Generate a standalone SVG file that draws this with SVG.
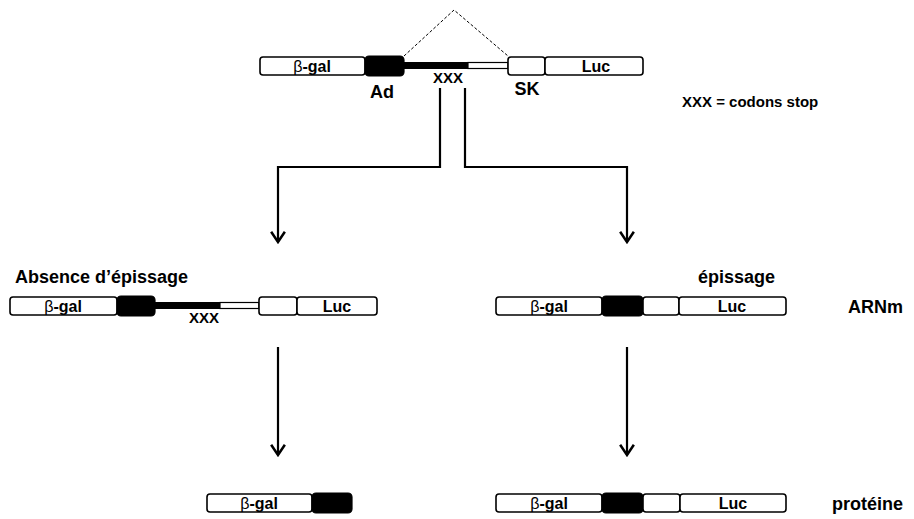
<svg xmlns="http://www.w3.org/2000/svg" width="914" height="519" viewBox="0 0 914 519">
<style>
.box{fill:#fff;stroke:#000;stroke-width:1.6}
.blk{fill:#000;stroke:#000;stroke-width:1.2}
.bar{fill:#000}
.wbar{fill:#fff;stroke:#000;stroke-width:1.2}
.t{font-family:"Liberation Sans",Arial,sans-serif;font-weight:bold;fill:#000}
.lab{font-size:18px}
.small{font-size:15px}
.g{font-size:16px;text-anchor:middle}
.beta{font-weight:normal}
.conn{fill:none;stroke:#000;stroke-width:2.2}
.dash{fill:none;stroke:#000;stroke-width:1;stroke-dasharray:3,2}
</style>
<defs>
<marker id="arr" markerUnits="userSpaceOnUse" markerWidth="14" markerHeight="16" refX="10" refY="7" orient="auto" viewBox="0 0 12 14">
<path d="M1,1 L10,7 L1,13" fill="none" stroke="#000" stroke-width="2.2"/>
</marker>
</defs>
<rect x="0" y="0" width="914" height="519" fill="#fff"/>

<g id="construct-top">
<path class="dash" d="M404,56 L454,10 L508,56"/>
<rect class="box" x="260" y="57" width="105" height="18" rx="3"/>
<text class="t g" x="312" y="72"><tspan class="beta">β</tspan>-gal</text>
<rect class="blk" x="365" y="56" width="39" height="20" rx="4"/>
<rect class="bar" x="403" y="62" width="65" height="7"/>
<rect class="wbar" x="468" y="62.5" width="40" height="6"/>
<rect class="box" x="508" y="57" width="37" height="18" rx="3"/>
<rect class="box" x="545" y="57" width="98" height="18" rx="3"/>
<text class="t g" x="596" y="72">Luc</text>
<text class="t small" x="448" y="83" text-anchor="middle">XXX</text>
<text class="t lab" x="382" y="98" text-anchor="middle">Ad</text>
<text class="t lab" x="527" y="95" text-anchor="middle">SK</text>
</g>

<g id="legend">
<text class="t small" x="682" y="107">XXX = codons stop</text>
</g>

<g id="unspliced">
<text class="t lab" x="15" y="283">Absence d’épissage</text>
<rect class="box" x="10" y="297" width="107" height="18" rx="3"/>
<text class="t g" x="63" y="312"><tspan class="beta">β</tspan>-gal</text>
<rect class="blk" x="117" y="296" width="38" height="20" rx="4"/>
<rect class="bar" x="154" y="302" width="66" height="7"/>
<rect class="wbar" x="220" y="302.5" width="39" height="6"/>
<rect class="box" x="259" y="297" width="38" height="18" rx="3"/>
<rect class="box" x="297" y="297" width="80" height="18" rx="3"/>
<text class="t g" x="337" y="312">Luc</text>
<text class="t small" x="204" y="323" text-anchor="middle">XXX</text>
</g>

<g id="spliced">
<text class="t lab" x="698" y="283">épissage</text>
<rect class="box" x="496" y="297" width="106" height="18" rx="3"/>
<text class="t g" x="549" y="312"><tspan class="beta">β</tspan>-gal</text>
<rect class="blk" x="602" y="296" width="41" height="20" rx="4"/>
<rect class="box" x="643" y="297" width="36" height="18" rx="3"/>
<rect class="box" x="679" y="297" width="107" height="18" rx="3"/>
<text class="t g" x="732" y="312">Luc</text>
<text class="t lab" x="848" y="313">ARNm</text>
</g>

<g id="protein-short">
<rect class="box" x="207" y="494" width="105" height="18" rx="3"/>
<text class="t g" x="259" y="509"><tspan class="beta">β</tspan>-gal</text>
<rect class="blk" x="312" y="493" width="40" height="20" rx="4"/>
</g>

<g id="protein-full">
<rect class="box" x="496" y="494" width="106" height="18" rx="3"/>
<text class="t g" x="549" y="509"><tspan class="beta">β</tspan>-gal</text>
<rect class="blk" x="602" y="493" width="41" height="20" rx="4"/>
<rect class="box" x="643" y="494" width="37" height="18" rx="3"/>
<rect class="box" x="680" y="494" width="106" height="18" rx="3"/>
<text class="t g" x="733" y="509">Luc</text>
<text class="t lab" x="832" y="510">protéine</text>
</g>

<g id="connectors">
<path class="conn" d="M440,88 L440,167 L278,167 L278,242" marker-end="url(#arr)"/>
<path class="conn" d="M465,88 L465,167 L627,167 L627,242" marker-end="url(#arr)"/>
<path class="conn" d="M278,347 L278,455" marker-end="url(#arr)"/>
<path class="conn" d="M627,347 L627,455" marker-end="url(#arr)"/>
</g>
</svg>
